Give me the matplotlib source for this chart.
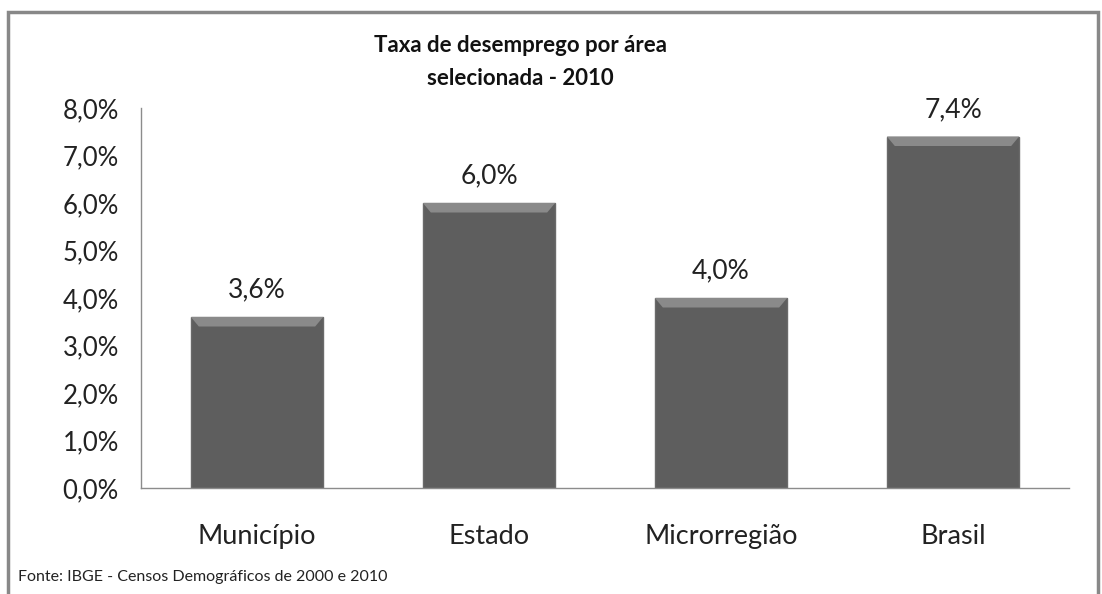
import matplotlib.pyplot as plt
import matplotlib.patches as mpatches

# Data
categories = ["Município", "Estado", "Microrregião", "Brasil"]
taxa = [3.6, 6.0, 4.0, 7.4]
y_ticks = [0, 1, 2, 3, 4, 5, 6, 7, 8]

plt.rcParams["font.family"] = ["Lato", "DejaVu Sans"]

fig = plt.figure(figsize=(11.02, 5.94), dpi=100)
ax = fig.add_axes([141 / 1102, 1 - 488 / 594, (1069 - 141) / 1102, 380 / 594])

x = range(len(categories))
width = 0.57
bars = ax.bar(x, taxa, width=width, color="#5e5e5e", edgecolor="#6a6a6a", linewidth=1, zorder=2)

# bevel highlight on top of each bar
band = 0.2
for b, v in zip(bars, taxa):
    x0 = b.get_x()
    w = b.get_width()
    inset = w * 0.06
    poly = mpatches.Polygon(
        [(x0, v), (x0 + w, v), (x0 + w - inset, v - band), (x0 + inset, v - band)],
        closed=True, facecolor="#8a8a8a", edgecolor="none", zorder=3)
    ax.add_patch(poly)
    ax.text(b.get_x() + w / 2, v + 0.3, f"{v:.1f}%".replace(".", ","),
            ha="center", va="bottom", fontsize=19, color="#222222")

ax.set_xlim(-0.5, len(categories) - 0.5)
ax.set_ylim(0, 8)
ax.set_yticks(y_ticks)
ax.set_yticklabels([f"{t:.1f}%".replace(".", ",") for t in y_ticks], fontsize=18.5, color="#222222")
ax.set_xticks(list(x))
ax.set_xticklabels(categories, fontsize=19.5, color="#222222")
ax.tick_params(axis="y", length=0, pad=16)
ax.tick_params(axis="x", length=0, pad=26)

for s in ["top", "right"]:
    ax.spines[s].set_visible(False)
for s in ["left", "bottom"]:
    ax.spines[s].set_color("#8c8c8c")
    ax.spines[s].set_linewidth(1)

fig.text(520 / 1102, 1 - 62 / 594, "Taxa de desemprego por área\nselecionada - 2010",
         ha="center", va="center", fontsize=16, fontweight="bold", color="#111111",
         linespacing=1.75)

fig.text(18 / 1102, 1 - 577 / 594, "Fonte: IBGE - Censos Demográficos de 2000 e 2010",
         ha="left", va="center", fontsize=11.5, color="#222222")

# outer frame
frame = mpatches.Rectangle((8 / 1102, -0.02), 1090 / 1102, (594 - 12) / 594 + 0.02,
                           transform=fig.transFigure, fill=False, edgecolor="#888888",
                           linewidth=2.5, clip_on=False)
fig.patches.append(frame)

fig.savefig("out.png", dpi=100)
